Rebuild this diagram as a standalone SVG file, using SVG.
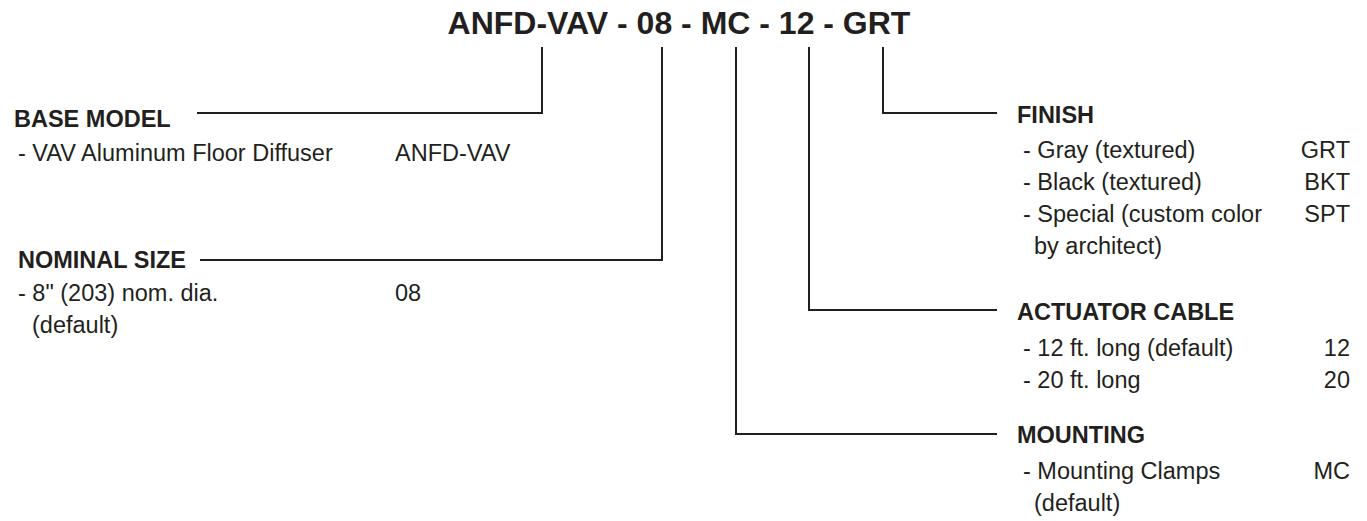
<svg xmlns="http://www.w3.org/2000/svg" width="1367" height="521" viewBox="0 0 1367 521">
<style>
text{font-family:"Liberation Sans",Arial,Helvetica,sans-serif;fill:#231f20}
.t{font-size:32px;font-weight:bold}
.h{font-size:23.5px;font-weight:bold}
.b{font-size:23.5px}
.r{text-anchor:end}
.c{fill:none;stroke:#231f20;stroke-width:2}
</style>
<rect width="1367" height="521" fill="#fff"/>
<g id="title"><text class="t" x="679" y="34" text-anchor="middle">ANFD-VAV - 08 - MC - 12 - GRT</text></g>
<g id="connectors">
<polyline class="c" points="542,47 542,113 197,113"/>
<polyline class="c" points="662,47 662,260 200,260"/>
<polyline class="c" points="736,47 736,434 997,434"/>
<polyline class="c" points="809,47 809,310 997,310"/>
<polyline class="c" points="883,47 883,113 997,113"/>
</g>
<g id="base-model">
<text class="h" x="14" y="127">BASE MODEL</text>
<text class="b" x="18" y="161">- VAV Aluminum Floor Diffuser</text>
<text class="b" x="395" y="161">ANFD-VAV</text>
</g>
<g id="nominal-size">
<text class="h" x="18" y="268">NOMINAL SIZE</text>
<text class="b" x="18" y="301">- 8" (203) nom. dia.</text>
<text class="b" x="395" y="301">08</text>
<text class="b" x="32" y="333">(default)</text>
</g>
<g id="finish">
<text class="h" x="1017" y="123">FINISH</text>
<text class="b" x="1023" y="158">- Gray (textured)</text>
<text class="b r" x="1350" y="158">GRT</text>
<text class="b" x="1023" y="190">- Black (textured)</text>
<text class="b r" x="1350" y="190">BKT</text>
<text class="b" x="1023" y="222">- Special (custom color</text>
<text class="b r" x="1350" y="222">SPT</text>
<text class="b" x="1034" y="254">by architect)</text>
</g>
<g id="actuator-cable">
<text class="h" x="1017" y="320">ACTUATOR CABLE</text>
<text class="b" x="1023" y="356">- 12 ft. long (default)</text>
<text class="b r" x="1350" y="356">12</text>
<text class="b" x="1023" y="388">- 20 ft. long</text>
<text class="b r" x="1350" y="388">20</text>
</g>
<g id="mounting">
<text class="h" x="1017" y="443">MOUNTING</text>
<text class="b" x="1023" y="479">- Mounting Clamps</text>
<text class="b r" x="1350" y="479">MC</text>
<text class="b" x="1034" y="511">(default)</text>
</g>
</svg>
